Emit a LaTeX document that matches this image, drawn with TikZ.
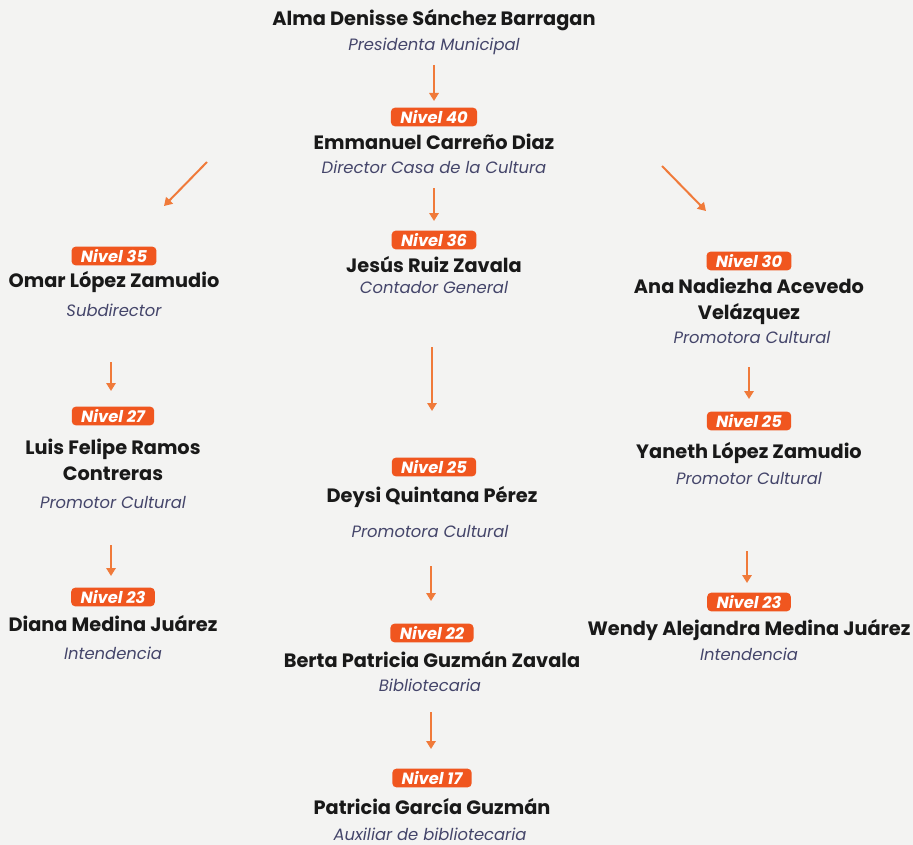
\documentclass[tikz,border=0pt]{standalone}
\usepackage{fontspec}
\setmainfont{Poppins}
\usetikzlibrary{arrows.meta}
\definecolor{naranja}{HTML}{F0561F}
\definecolor{flecha}{HTML}{F07A3A}
\definecolor{rol}{HTML}{44456A}
\definecolor{fondo}{HTML}{F3F3F2}
\begin{document}
\begin{tikzpicture}[x=0.75pt,y=-0.75pt,
    nivel/.style={fill=naranja, rounded corners=3pt, text=white, font=\bfseries\itshape\fontsize{12.2}{12.2}\selectfont, inner xsep=7pt, inner ysep=0pt, minimum height=14pt},
    nombre/.style={font=\bfseries\fontsize{14.5}{19.5}\selectfont, text=black!90, align=center, inner sep=0pt},
    cargo/.style={font=\itshape\fontsize{12.3}{13}\selectfont, text=rol, inner sep=0pt},
    liga/.style={draw=flecha, line width=1.5pt, -{Triangle[length=6pt,width=7pt]}},
    ]
    % fondo
    \fill[fondo] (0,0) rectangle (913,845);
    \useasboundingbox (0,0) rectangle (913,845);
    % columna central
    \node[nombre] (alma) at (434,20) {Alma Denisse Sánchez Barragan};
    \node[cargo] (almarol) at (434,46) {Presidenta Municipal};
    \node[nivel] (n40) at (434,117) {Nivel 40};
    \node[nombre] (emmanuel) at (434,142) {Emmanuel Carreño Diaz};
    \node[cargo] (emmanuelrol) at (434,167) {Director Casa de la Cultura};
    \node[nivel] (n36) at (434,240) {Nivel 36};
    \node[nombre] (jesus) at (434,265) {Jesús Ruiz Zavala};
    \node[cargo] (jesusrol) at (434,288) {Contador General};
    \node[nivel] (n25c) at (434,467) {Nivel 25};
    \node[nombre] (deysi) at (432,497) {Deysi Quintana Pérez};
    \node[cargo] (deysirol) at (430,532) {Promotora Cultural};
    \node[nivel] (n22) at (432,633) {Nivel 22};
    \node[nombre] (berta) at (432,660) {Berta Patricia Guzmán Zavala};
    \node[cargo] (bertarol) at (430,685) {Bibliotecaria};
    \node[nivel] (n17) at (432,778) {Nivel 17};
    \node[nombre] (patricia) at (432,807) {Patricia García Guzmán};
    \node[cargo] (patriciarol) at (430,834) {Auxiliar de bibliotecaria};
    % columna izquierda
    \node[nivel] (n35) at (114,256) {Nivel 35};
    \node[nombre] (omar) at (114,282) {Omar López Zamudio};
    \node[cargo] (omarrol) at (114,310) {Subdirector};
    \node[nivel] (n27) at (113,416) {Nivel 27};
    \node[nombre] (luis) at (113,460) {Luis Felipe Ramos\\Contreras};
    \node[cargo] (luisrol) at (113,503) {Promotor Cultural};
    \node[nivel] (n23i) at (113,597) {Nivel 23};
    \node[nombre] (diana) at (113,624) {Diana Medina Juárez};
    \node[cargo] (dianarol) at (113,653) {Intendencia};
    % columna derecha
    \node[nivel] (n30) at (749,261) {Nivel 30};
    \node[nombre] (ana) at (749,301) {Ana Nadiezha Acevedo\\Velázquez};
    \node[cargo] (anarol) at (752,338) {Promotora Cultural};
    \node[nivel] (n25d) at (749,421) {Nivel 25};
    \node[nombre] (yaneth) at (749,453) {Yaneth López Zamudio};
    \node[cargo] (yanethrol) at (749,479) {Promotor Cultural};
    \node[nivel] (n23d) at (749,602) {Nivel 23};
    \node[nombre] (wendy) at (749,630) {Wendy Alejandra Medina Juárez};
    \node[cargo] (wendyrol) at (749,654) {Intendencia};
    % flechas
    \coordinate (a1) at (434,65);   \coordinate (b1) at (434,101);
    \coordinate (a2) at (207,162);  \coordinate (b2) at (164,206);
    \coordinate (a3) at (662,166);  \coordinate (b3) at (706,211);
    \coordinate (a4) at (434,188);  \coordinate (b4) at (434,221);
    \coordinate (a5) at (432,347);  \coordinate (b5) at (432,411);
    \coordinate (a6) at (431,566);  \coordinate (b6) at (431,601);
    \coordinate (a7) at (431,712);  \coordinate (b7) at (431,749);
    \coordinate (a8) at (111,362);  \coordinate (b8) at (111,391);
    \coordinate (a9) at (111,545);  \coordinate (b9) at (111,576);
    \coordinate (a10) at (749,367); \coordinate (b10) at (749,399);
    \coordinate (a11) at (747,551); \coordinate (b11) at (747,583);
    \foreach \i in {1,...,11}
        \draw[liga] (a\i) -- (b\i);
\end{tikzpicture}
\end{document}
